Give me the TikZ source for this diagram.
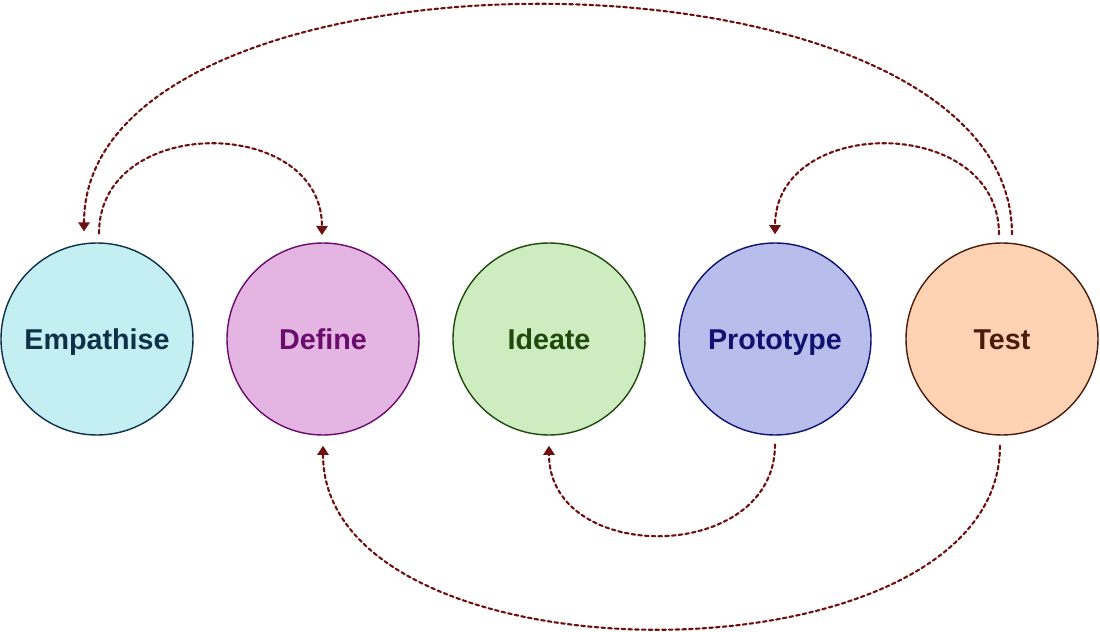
\documentclass[tikz,border=0pt]{standalone}
\usepackage{fontspec}
\setsansfont{Liberation Sans}
\usetikzlibrary{arrows.meta}
\definecolor{loopcol}{HTML}{6E1010}
\definecolor{empfill}{HTML}{C3EFF2}
\definecolor{empdraw}{HTML}{0E3048}
\definecolor{deffill}{HTML}{E4B5E3}
\definecolor{defdraw}{HTML}{6A0C6C}
\definecolor{idefill}{HTML}{CDEDC0}
\definecolor{idedraw}{HTML}{1F4A0C}
\definecolor{profill}{HTML}{B8BEEC}
\definecolor{prodraw}{HTML}{0F1270}
\definecolor{tstfill}{HTML}{FFD2B3}
\definecolor{tstdraw}{HTML}{4A1C0C}

\begin{document}
\begin{tikzpicture}[
  font=\sffamily, line cap=round, line join=round,
  stage/.style={circle, draw=#1draw, fill=#1fill, text=#1draw,
                line width=1pt, minimum size=4.8cm, inner sep=0pt,
                text height=14.5pt, text depth=0pt,
                font=\sffamily\bfseries\fontsize{20.4}{24}\selectfont},
  fl/.style={-{Triangle[width=8pt,length=6.5pt]}, loopcol, line width=1.5pt,
             dash pattern=on 2.6pt off 2.2pt}]

% five stages
\node[stage=emp] (emp) at (2.425,-8.475)  {Empathise};
\node[stage=def] (def) at (8.075,-8.475)  {Define};
\node[stage=ide] (ide) at (13.725,-8.475) {Ideate};
\node[stage=pro] (pro) at (19.375,-8.475) {Prototype};
\node[stage=tst] (tst) at (25.05,-8.475)  {Test};

% loops above
\draw[fl] ([xshift=0.05cm,yshift=0.22cm]emp.north)
  .. controls +(0,3) and +(0,3) .. ([xshift=-0.025cm,yshift=0.18cm]def.north);
\draw[fl] ([xshift=0.25cm,yshift=0.2cm]tst.north)
  .. controls +(0,7.6) and +(0,7.6) .. ([xshift=-0.325cm,yshift=0.27cm]emp.north);
\draw[fl] ([xshift=-0.075cm,yshift=0.2cm]tst.north)
  .. controls +(0,3) and +(0,3) .. ([yshift=0.2cm]pro.north);

% loops below
\draw[fl] ([yshift=-0.22cm]pro.south)
  .. controls +(0,-3) and +(0,-3) .. ([yshift=-0.25cm]ide.south);
\draw[fl] ([xshift=-0.05cm,yshift=-0.25cm]tst.south)
  .. controls +(0,-6.1) and +(0,-6.1) .. ([yshift=-0.25cm]def.south);

\pgfresetboundingbox
\path[use as bounding box] (0,0) rectangle (27.5,-15.8);
\end{tikzpicture}
\end{document}
